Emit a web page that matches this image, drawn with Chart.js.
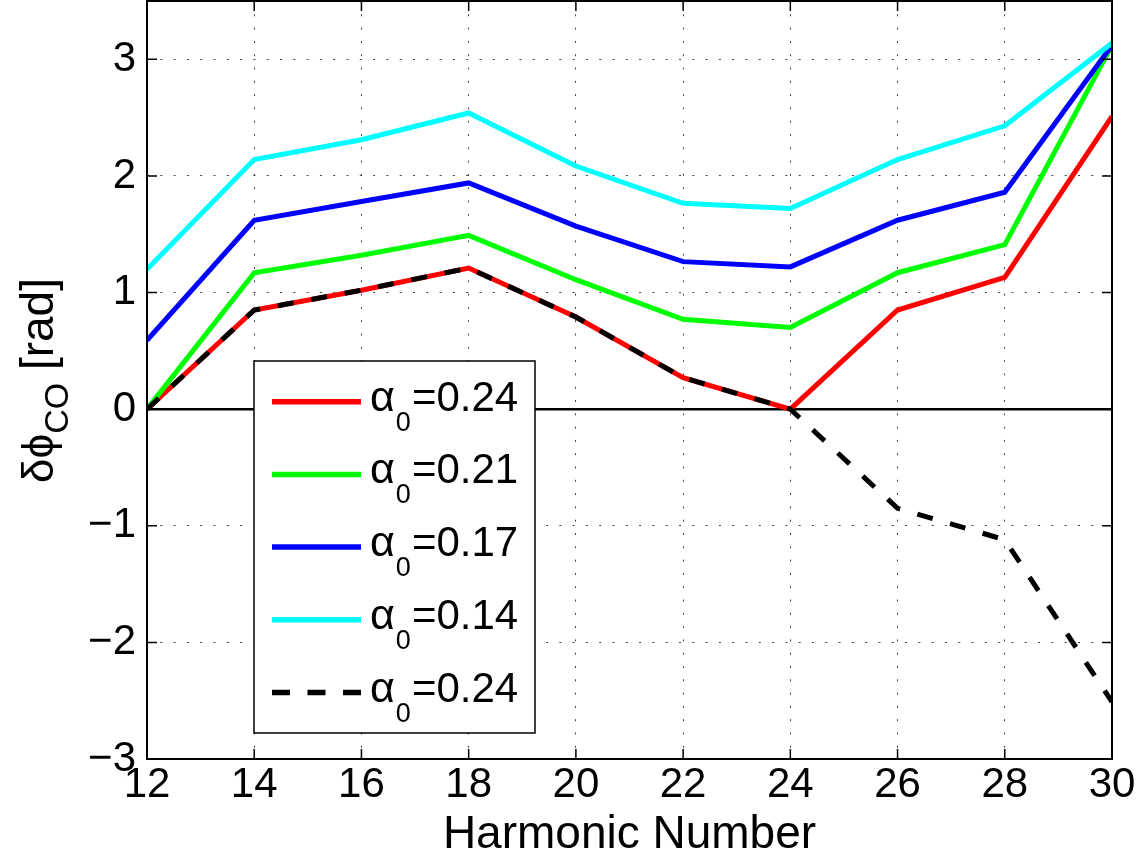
<!DOCTYPE html>
<html><head><meta charset="utf-8">
<script src="https://cdn.jsdelivr.net/npm/chart.js@4.4.1/dist/chart.umd.min.js"></script>
<style>html,body{margin:0;padding:0;background:#fff;}canvas{display:block;}</style>
</head><body>
<canvas id="c" width="1141" height="863"></canvas>
<script>
// ---- data ----
const harmonics = [12, 14, 16, 18, 20, 22, 24, 26, 28, 30];
const alpha024 = [0, 0.85, 1.02, 1.21, 0.79, 0.27, 0, 0.85, 1.13, 2.51];
const alpha021 = [0, 1.17, 1.32, 1.49, 1.11, 0.77, 0.70, 1.17, 1.41, 3.12];
const alpha017 = [0.59, 1.62, 1.78, 1.94, 1.57, 1.265, 1.22, 1.62, 1.86, 3.12];
const alpha014 = [1.20, 2.14, 2.31, 2.54, 2.085, 1.765, 1.72, 2.14, 2.43, 3.14];
const alpha024neg = [0, 0.85, 1.02, 1.21, 0.79, 0.27, 0, -0.85, -1.12, -2.51];
const seriesValues = ['0.24', '0.21', '0.17', '0.14', '0.24'];
const seriesColors = ['#ff0000', '#00ff00', '#0000ff', '#00ffff', '#000000'];
const xTickValues = [12, 14, 16, 18, 20, 22, 24, 26, 28, 30];
const yTickValues = [-3, -2, -1, 0, 1, 2, 3];
const zeroLine = [12, 30];

const FONT = '"Liberation Sans", Arial, Helvetica, sans-serif';
const pts = (ys) => harmonics.map((x, i) => ({x: x, y: ys[i]}));
const allSeries = [alpha024, alpha021, alpha017, alpha014, alpha024neg];

const datasets = allSeries.map((ys, i) => ({
  label: 'α0=' + seriesValues[i],
  data: pts(ys),
  borderColor: seriesColors[i],
  backgroundColor: seriesColors[i],
  borderWidth: 5,
  borderDash: i === 4 ? [16, 18] : [],
  pointRadius: 0,
  tension: 0,
  fill: false,
  order: 5 - i,
  subValue: seriesValues[i]
}));
datasets.push({
  label: 'zero',
  data: zeroLine.map(x => ({x: x, y: 0})),
  borderColor: '#000',
  borderWidth: 2.5,
  pointRadius: 0,
  order: 10,
  hideInLegend: true
});

const framePlugin = {
  id: 'frame',
  afterDatasetsDraw(chart) {
    const {ctx, chartArea: a, scales} = chart;
    ctx.save();
    ctx.strokeStyle = '#000';
    ctx.lineWidth = 1.5;
    ctx.beginPath();
    const tl = 10;
    scales.x.ticks.forEach(t => {
      const px = scales.x.getPixelForValue(t.value);
      ctx.moveTo(px, a.bottom); ctx.lineTo(px, a.bottom - tl);
      ctx.moveTo(px, a.top); ctx.lineTo(px, a.top + tl);
    });
    scales.y.ticks.forEach(t => {
      const py = scales.y.getPixelForValue(t.value);
      ctx.moveTo(a.left, py); ctx.lineTo(a.left + tl, py);
      ctx.moveTo(a.right, py); ctx.lineTo(a.right - tl, py);
    });
    ctx.stroke();
    ctx.lineWidth = 2;
    ctx.strokeRect(a.left, a.top, a.right - a.left, a.bottom - a.top);
    ctx.restore();
  },
  afterDraw(chart) {
    const {ctx} = chart;
    // legend
    ctx.save();
    const bx = 254, by = 361, bw = 281, bh = 372;
    ctx.fillStyle = '#fff';
    ctx.fillRect(bx, by, bw, bh);
    ctx.strokeStyle = '#000';
    ctx.lineWidth = 1.5;
    ctx.strokeRect(bx, by, bw, bh);
    const items = chart.data.datasets.filter(d => !d.hideInLegend);
    items.forEach((d, i) => {
      const y = 401.7 + i * 72.7;
      ctx.beginPath();
      ctx.strokeStyle = d.borderColor;
      ctx.lineWidth = 5.5;
      ctx.setLineDash(d.borderDash && d.borderDash.length ? [18, 17.5] : []);
      ctx.moveTo(272, y); ctx.lineTo(361, y);
      ctx.stroke();
      ctx.setLineDash([]);
      ctx.fillStyle = '#000';
      ctx.textBaseline = 'alphabetic';
      ctx.textAlign = 'left';
      let x = 370;
      ctx.font = '43px ' + FONT;
      ctx.fillText('α', x, y + 9);
      x += ctx.measureText('α').width + 1;
      ctx.font = '27px ' + FONT;
      ctx.fillText('0', x, y + 29);
      x += ctx.measureText('0').width + 1;
      ctx.font = '42px ' + FONT;
      ctx.fillText('=' + d.subValue, x, y + 9);
    });
    // y-axis title with subscript
    ctx.translate(53, 483);
    ctx.rotate(-Math.PI / 2);
    ctx.fillStyle = '#000';
    ctx.textBaseline = 'alphabetic';
    ctx.textAlign = 'left';
    let u = 0;
    ctx.font = '44px ' + FONT;
    ctx.fillText('δϕ', u, 0);
    u += ctx.measureText('δϕ').width;
    ctx.font = '34px ' + FONT;
    ctx.fillText('CO', u, 15);
    u += ctx.measureText('CO').width;
    ctx.font = '46px ' + FONT;
    ctx.fillText(' [rad]', u, 0);
    ctx.restore();
  }
};

new Chart(document.getElementById('c'), {
  type: 'line',
  data: {datasets: datasets},
  options: {
    responsive: false,
    animation: false,
    devicePixelRatio: 1,
    layout: {padding: {left: 0, right: 29, top: 1, bottom: 0}},
    plugins: {legend: {display: false}, tooltip: {enabled: false}},
    scales: {
      x: {
        type: 'linear', min: 12, max: 30,
        afterBuildTicks: s => { s.ticks = xTickValues.map(v => ({value: v})); },
        afterFit: s => { s.height = 104; s.paddingLeft = 0; s.paddingRight = 0; },
        ticks: {font: {family: FONT, size: 42}, color: '#000', padding: 1, maxRotation: 0, autoSkip: false},
        grid: {color: '#444', lineWidth: 1, drawTicks: false},
        border: {display: false, dash: [2, 11.3]},
        title: {display: true, text: 'Harmonic Number', color: '#000',
                font: {family: FONT, size: 46}, padding: {top: 0, bottom: 0}}
      },
      y: {
        type: 'linear', min: -3, max: 3.5,
        afterBuildTicks: s => { s.ticks = yTickValues.map(v => ({value: v})); },
        afterFit: s => { s.width = 147; s.paddingTop = 0; s.paddingBottom = 0; },
        ticks: {font: {family: FONT, size: 42}, color: '#000', padding: 11,
                callback: v => String(v).replace('-', '\u2212')},
        grid: {color: '#444', lineWidth: 1, drawTicks: false},
        border: {display: false, dash: [2, 11.3]}
      }
    }
  },
  plugins: [framePlugin]
});
</script>
</body></html>
